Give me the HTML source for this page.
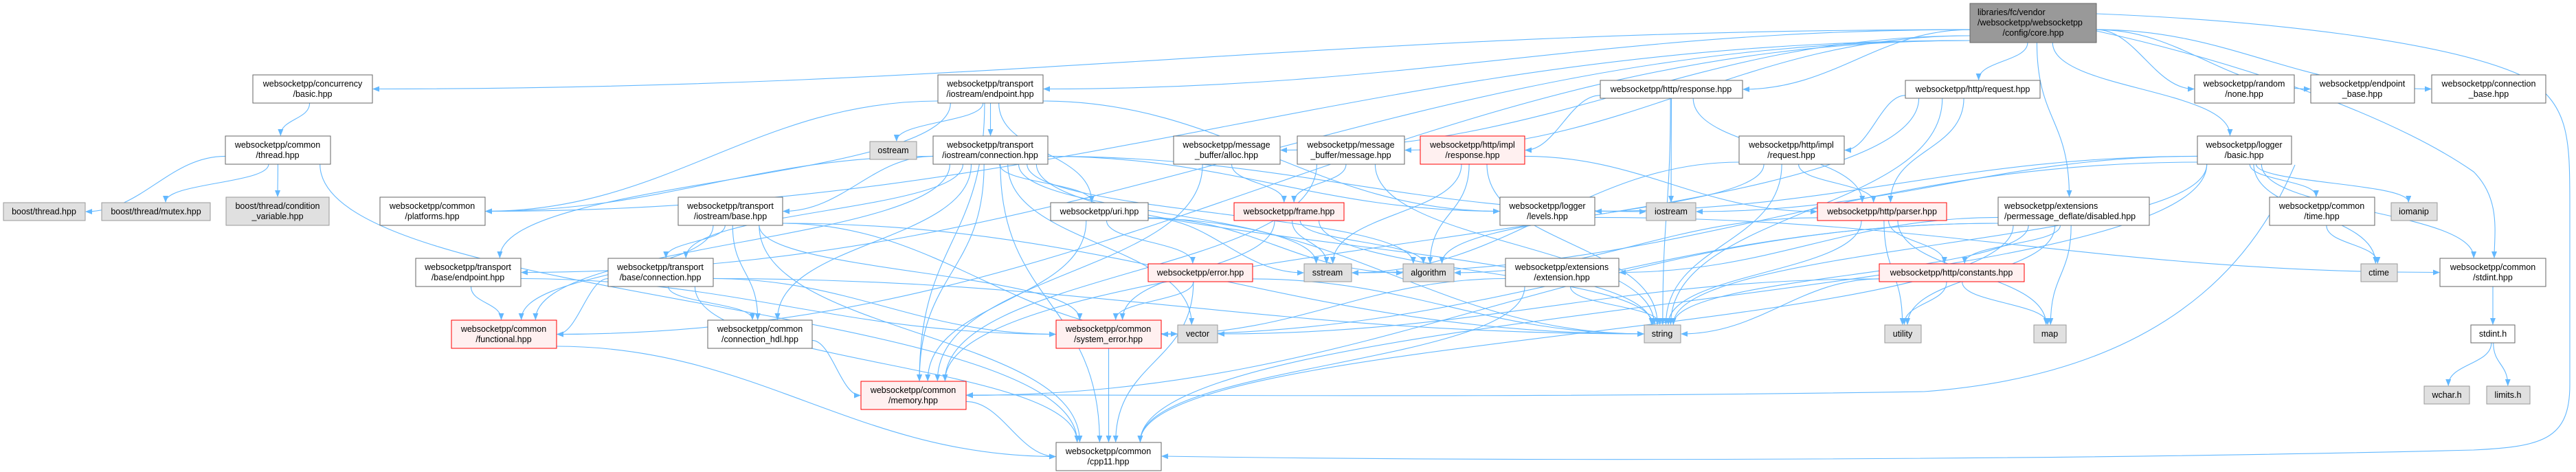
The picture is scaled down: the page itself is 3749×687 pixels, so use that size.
<!DOCTYPE html>
<html><head><meta charset="utf-8">
<style>
html,body{margin:0;padding:0;background:#fff;}
svg{display:block;}
text{font-family:"Liberation Sans",Arial,sans-serif;font-size:12.5px;fill:#000;}
</style></head>
<body>
<svg id="g" width="3749" height="687" viewBox="0 0 3749 687" xmlns="http://www.w3.org/2000/svg">
<defs>
<marker id="ah" markerWidth="10" markerHeight="8" refX="9" refY="4" orient="auto" markerUnits="userSpaceOnUse">
<path d="M0,0 L10,4 L0,8 z" fill="#63b8ff"/>
</marker>
</defs>
<g id="edges" fill="none" stroke="#63b8ff" stroke-width="1.1"></g>
<g id="nodes">
<rect x="2867" y="5" width="184" height="57" fill="#999" stroke="#666"/>
<text x="2878" y="22">libraries/fc/vendor</text><text x="2878" y="37">/websocketpp/websocketpp</text><text x="2959" y="52" text-anchor="middle">/config/core.hpp</text>

<rect x="368" y="109" width="174" height="41" fill="#fff" stroke="#666"/><text x="455" y="126" text-anchor="middle">websocketpp/concurrency</text><text x="455" y="141" text-anchor="middle">/basic.hpp</text>
<rect x="328" y="198" width="153" height="41" fill="#fff" stroke="#666"/><text x="404" y="215" text-anchor="middle">websocketpp/common</text><text x="404" y="230" text-anchor="middle">/thread.hpp</text>
<rect x="5" y="295" width="119" height="26" fill="#e0e0e0" stroke="#999"/><text x="64" y="312" text-anchor="middle">boost/thread.hpp</text>
<rect x="148" y="295" width="158" height="26" fill="#e0e0e0" stroke="#999"/><text x="227" y="312" text-anchor="middle">boost/thread/mutex.hpp</text>
<rect x="329" y="287" width="150" height="41" fill="#e0e0e0" stroke="#999"/><text x="404" y="304" text-anchor="middle">boost/thread/condition</text><text x="404" y="319" text-anchor="middle">_variable.hpp</text>
<rect x="553" y="287" width="153" height="41" fill="#fff" stroke="#666"/><text x="629" y="304" text-anchor="middle">websocketpp/common</text><text x="629" y="319" text-anchor="middle">/platforms.hpp</text>
<rect x="605" y="376" width="153" height="41" fill="#fff" stroke="#666"/><text x="681" y="393" text-anchor="middle">websocketpp/transport</text><text x="681" y="408" text-anchor="middle">/base/endpoint.hpp</text>
<rect x="657" y="466" width="153" height="41" fill="#fff0f0" stroke="#f00"/><text x="733" y="483" text-anchor="middle">websocketpp/common</text><text x="733" y="498" text-anchor="middle">/functional.hpp</text>

<rect x="1365" y="109" width="153" height="41" fill="#fff" stroke="#666"/><text x="1441" y="126" text-anchor="middle">websocketpp/transport</text><text x="1441" y="141" text-anchor="middle">/iostream/endpoint.hpp</text>
<rect x="1266" y="206" width="68" height="26" fill="#e0e0e0" stroke="#999"/><text x="1300" y="223" text-anchor="middle">ostream</text>
<rect x="1358" y="198" width="167" height="41" fill="#fff" stroke="#666"/><text x="1441" y="215" text-anchor="middle">websocketpp/transport</text><text x="1441" y="230" text-anchor="middle">/iostream/connection.hpp</text>
<rect x="1708" y="198" width="155" height="41" fill="#fff" stroke="#666"/><text x="1785" y="215" text-anchor="middle">websocketpp/message</text><text x="1785" y="230" text-anchor="middle">_buffer/alloc.hpp</text>
<rect x="987" y="287" width="152" height="41" fill="#fff" stroke="#666"/><text x="1063" y="304" text-anchor="middle">websocketpp/transport</text><text x="1063" y="319" text-anchor="middle">/iostream/base.hpp</text>
<rect x="1529" y="295" width="142" height="26" fill="#fff" stroke="#666"/><text x="1600" y="312" text-anchor="middle">websocketpp/uri.hpp</text>
<rect x="1796" y="295" width="160" height="26" fill="#fff0f0" stroke="#f00"/><text x="1876" y="312" text-anchor="middle">websocketpp/frame.hpp</text>
<rect x="885" y="376" width="153" height="41" fill="#fff" stroke="#666"/><text x="961" y="393" text-anchor="middle">websocketpp/transport</text><text x="961" y="408" text-anchor="middle">/base/connection.hpp</text>
<rect x="1671" y="384" width="152" height="26" fill="#fff0f0" stroke="#f00"/><text x="1747" y="401" text-anchor="middle">websocketpp/error.hpp</text>
<rect x="1030" y="466" width="152" height="41" fill="#fff" stroke="#666"/><text x="1106" y="483" text-anchor="middle">websocketpp/common</text><text x="1106" y="498" text-anchor="middle">/connection_hdl.hpp</text>
<rect x="1537" y="466" width="153" height="41" fill="#fff0f0" stroke="#f00"/><text x="1613" y="483" text-anchor="middle">websocketpp/common</text><text x="1613" y="498" text-anchor="middle">/system_error.hpp</text>
<rect x="1714" y="473" width="58" height="26" fill="#e0e0e0" stroke="#999"/><text x="1743" y="490" text-anchor="middle">vector</text>
<rect x="1253" y="555" width="153" height="41" fill="#fff0f0" stroke="#f00"/><text x="1329" y="572" text-anchor="middle">websocketpp/common</text><text x="1329" y="587" text-anchor="middle">/memory.hpp</text>
<rect x="1537" y="644" width="153" height="41" fill="#fff" stroke="#666"/><text x="1613" y="661" text-anchor="middle">websocketpp/common</text><text x="1613" y="676" text-anchor="middle">/cpp11.hpp</text>

<rect x="2329" y="117" width="207" height="26" fill="#fff" stroke="#666"/><text x="2432" y="134" text-anchor="middle">websocketpp/http/response.hpp</text>
<rect x="2773" y="117" width="196" height="26" fill="#fff" stroke="#666"/><text x="2871" y="134" text-anchor="middle">websocketpp/http/request.hpp</text>
<rect x="1888" y="198" width="156" height="41" fill="#fff" stroke="#666"/><text x="1966" y="215" text-anchor="middle">websocketpp/message</text><text x="1966" y="230" text-anchor="middle">_buffer/message.hpp</text>
<rect x="2067" y="198" width="152" height="41" fill="#fff0f0" stroke="#f00"/><text x="2143" y="215" text-anchor="middle">websocketpp/http/impl</text><text x="2143" y="230" text-anchor="middle">/response.hpp</text>
<rect x="2531" y="198" width="153" height="41" fill="#fff" stroke="#666"/><text x="2607" y="215" text-anchor="middle">websocketpp/http/impl</text><text x="2607" y="230" text-anchor="middle">/request.hpp</text>
<rect x="2183" y="287" width="138" height="41" fill="#fff" stroke="#666"/><text x="2252" y="304" text-anchor="middle">websocketpp/logger</text><text x="2252" y="319" text-anchor="middle">/levels.hpp</text>
<rect x="2396" y="295" width="72" height="26" fill="#e0e0e0" stroke="#999"/><text x="2432" y="312" text-anchor="middle">iostream</text>
<rect x="2645" y="295" width="188" height="26" fill="#fff0f0" stroke="#f00"/><text x="2739" y="312" text-anchor="middle">websocketpp/http/parser.hpp</text>
<rect x="1898" y="384" width="69" height="26" fill="#e0e0e0" stroke="#999"/><text x="1932" y="401" text-anchor="middle">sstream</text>
<rect x="2042" y="384" width="74" height="26" fill="#e0e0e0" stroke="#999"/><text x="2079" y="401" text-anchor="middle">algorithm</text>
<rect x="2191" y="376" width="165" height="41" fill="#fff" stroke="#666"/><text x="2273" y="393" text-anchor="middle">websocketpp/extensions</text><text x="2273" y="408" text-anchor="middle">/extension.hpp</text>
<rect x="2735" y="384" width="211" height="26" fill="#fff0f0" stroke="#f00"/><text x="2840" y="401" text-anchor="middle">websocketpp/http/constants.hpp</text>
<rect x="2393" y="473" width="53" height="26" fill="#e0e0e0" stroke="#999"/><text x="2419" y="490" text-anchor="middle">string</text>
<rect x="2743" y="473" width="53" height="26" fill="#e0e0e0" stroke="#999"/><text x="2769" y="490" text-anchor="middle">utility</text>

<rect x="3194" y="109" width="145" height="41" fill="#fff" stroke="#666"/><text x="3266" y="126" text-anchor="middle">websocketpp/random</text><text x="3266" y="141" text-anchor="middle">/none.hpp</text>
<rect x="3363" y="109" width="151" height="41" fill="#fff" stroke="#666"/><text x="3438" y="126" text-anchor="middle">websocketpp/endpoint</text><text x="3438" y="141" text-anchor="middle">_base.hpp</text>
<rect x="3539" y="109" width="166" height="41" fill="#fff" stroke="#666"/><text x="3622" y="126" text-anchor="middle">websocketpp/connection</text><text x="3622" y="141" text-anchor="middle">_base.hpp</text>
<rect x="3198" y="198" width="137" height="41" fill="#fff" stroke="#666"/><text x="3266" y="215" text-anchor="middle">websocketpp/logger</text><text x="3266" y="230" text-anchor="middle">/basic.hpp</text>
<rect x="2908" y="287" width="220" height="41" fill="#fff" stroke="#666"/><text x="2917" y="304">websocketpp/extensions</text><text x="2917" y="319">/permessage_deflate/disabled.hpp</text>
<rect x="3303" y="287" width="153" height="41" fill="#fff" stroke="#666"/><text x="3379" y="304" text-anchor="middle">websocketpp/common</text><text x="3379" y="319" text-anchor="middle">/time.hpp</text>
<rect x="3480" y="295" width="67" height="26" fill="#e0e0e0" stroke="#999"/><text x="3513" y="312" text-anchor="middle">iomanip</text>
<rect x="2960" y="473" width="47" height="26" fill="#e0e0e0" stroke="#999"/><text x="2983" y="490" text-anchor="middle">map</text>
<rect x="3436" y="384" width="53" height="26" fill="#e0e0e0" stroke="#999"/><text x="3462" y="401" text-anchor="middle">ctime</text>
<rect x="3551" y="376" width="154" height="41" fill="#fff" stroke="#666"/><text x="3628" y="393" text-anchor="middle">websocketpp/common</text><text x="3628" y="408" text-anchor="middle">/stdint.hpp</text>
<rect x="3596" y="473" width="64" height="26" fill="#fff" stroke="#666"/><text x="3628" y="490" text-anchor="middle">stdint.h</text>
<rect x="3528" y="562" width="66" height="26" fill="#e0e0e0" stroke="#999"/><text x="3561" y="579" text-anchor="middle">wchar.h</text>
<rect x="3619" y="562" width="63" height="26" fill="#e0e0e0" stroke="#999"/><text x="3650" y="579" text-anchor="middle">limits.h</text>
</g>
</svg>
<script>
var N={
core:[2867,3051,5,62],cb:[368,542,109,150],th:[328,481,198,239],bt:[5,124,295,321],bm:[148,306,295,321],bc:[329,479,287,328],
pl:[553,706,287,328],be:[605,758,376,417],fn:[657,810,466,507],ie:[1365,1518,109,150],os:[1266,1334,206,232],ic:[1358,1525,198,239],
al:[1708,1863,198,239],ib:[987,1139,287,328],ur:[1529,1671,295,321],fr:[1796,1956,295,321],bn:[885,1038,376,417],er:[1671,1823,384,410],
ch:[1030,1182,466,507],se:[1537,1690,466,507],ve:[1714,1772,473,499],me:[1253,1406,555,596],cp:[1537,1690,644,685],
hr:[2329,2536,117,143],hq:[2773,2969,117,143],mm:[1888,2044,198,239],ir:[2067,2219,198,239],iq:[2531,2684,198,239],
lv:[2183,2321,287,328],io:[2396,2468,295,321],pa:[2645,2833,295,321],ss:[1898,1967,384,410],ag:[2042,2116,384,410],
ex:[2191,2356,376,417],hc:[2735,2946,384,410],st:[2393,2446,473,499],ut:[2743,2796,473,499],rn:[3194,3339,109,150],
eb:[3363,3514,109,150],cn:[3539,3705,109,150],lb:[3198,3335,198,239],pd:[2908,3128,287,328],tm:[3303,3456,287,328],
im:[3480,3547,295,321],mp:[2960,3007,473,499],ct:[3436,3489,384,410],si:[3551,3705,376,417],sh:[3596,3660,473,499],
wc:[3528,3594,562,588],li:[3619,3682,562,588]};
var E="core cb,core pl,core ie,core al,core mm,core hr,core hq,core pd,core lb,core rn,core eb,core cn,core fn,core be,"+
"cb th,th bt,th bm,th bc,th cp,ie os,ie ic,ie ur,ie lv,ie me,ie be,ie pl,"+
"ic ib,ic bn,ic ch,ic me,ic ur,ic ve,ic st,ic ss,ic ag,ic io,ic pl,ic fn,ic cp,ic lv,"+
"ib bn,ib fn,ib ch,ib se,ib ve,ib st,ib cp,be fn,be se,bn fn,bn ch,bn se,bn cp,bn st,ch me,me cp,fn cp,se cp,"+
"ur er,ur me,ur st,ur ss,ur ag,er se,er cp,er st,al fr,al me,fr se,fr ag,fr st,fr ss,mm fr,mm me,mm st,"+
"hr ir,hr io,hr st,hr pa,ir pa,ir ss,ir ag,ir st,hq iq,hq pa,hq st,hq me,iq pa,iq st,iq ss,iq ag,"+
"pa hc,pa st,pa ut,pa mp,pa ag,hc st,hc ut,hc mp,hc ve,pd ex,pd hc,pd se,pd st,pd me,pd mp,pd ut,pd cp,"+
"ex st,ex cp,ex se,lb lv,lb io,lb im,lb tm,lb ct,lb si,lb st,lb cp,lb ss,lv si,tm ct,si sh,sh wc,sh li";
var g=document.getElementById('edges'),ns="http://www.w3.org/2000/svg";
function P(d){var p=document.createElementNS(ns,'path');p.setAttribute('d',d);p.setAttribute('marker-end','url(#ah)');g.appendChild(p);}
E.split(',').forEach(function(e){
 var a=e.split(' '),s=N[a[0]],t=N[a[1]];
 var scx=(s[0]+s[1])/2,tcx=(t[0]+t[1])/2,scy=(s[2]+s[3])/2,tcy=(t[2]+t[3])/2;
 var dy=t[2]-s[3],dx=tcx-scx;
 if(dy>10 && Math.abs(dx)<4.5*dy){
  var sx=scx+Math.max(-0.4,Math.min(0.4,dx/2000))*(s[1]-s[0]);
  var tx=tcx-Math.max(-0.3,Math.min(0.3,dx/2000))*(t[1]-t[0]);
  var sy=s[3],ty=t[2]-1,h=dy*0.5;
  P("M"+sx+","+sy+" C"+sx+","+(sy+h)+" "+tx+","+(ty-h)+" "+tx+","+ty);
 } else {
  var sx,tx,ty=tcy;
  if(dx<0){sx=s[0];tx=t[1]+1;}else{sx=s[1];tx=t[0]-1;}
  var sy=Math.min(s[3]-3,Math.max(s[2]+3,scy+(tcy-scy)*0.1));
  var c=(tx-sx)*0.4;
  P("M"+sx+","+sy+" C"+(sx+c)+","+sy+" "+(tx-c)+","+ty+" "+tx+","+ty);
 }
});
P("M3051,20 C3300,30 3560,60 3670,110 C3740,150 3740,200 3740,300 L3740,560 C3740,640 3700,650 3600,655 C3000,670 2200,672 1691,664");
P("M3051,45 C3300,100 3500,180 3600,250 C3640,290 3630,340 3630,375");
P("M3340,240 C3300,330 3200,540 2800,570 C2200,580 1700,574 1407,575");
</script>
</body></html>
